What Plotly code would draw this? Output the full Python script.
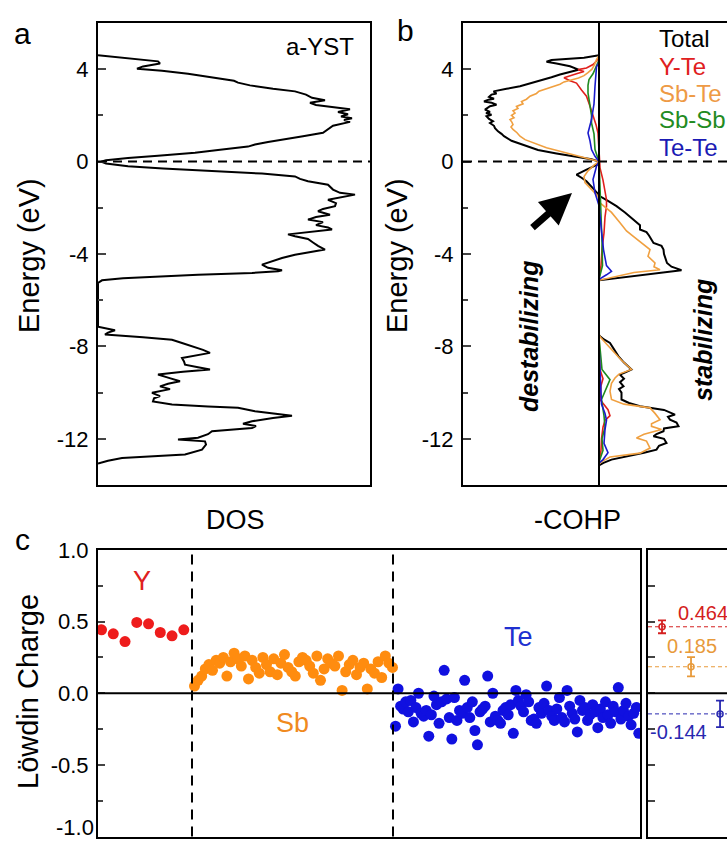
import plotly.graph_objects as go

W, H = 727, 842
FONT = "Arial, Liberation Sans, Helvetica, sans-serif"

# ---------------- data ----------------
# Panel a: total DOS of a-YST (energy in eV, DOS arb. units)
dos_energy = [4.60, 4.45, 4.34, 4.25, 4.12, 4.02, 3.93, 3.80, 3.69, 3.55, 3.50, 3.42, 3.30, 3.15, 3.04,
              2.90, 2.76, 2.66, 2.55, 2.45, 2.38, 2.27, 2.15, 2.05, 1.95, 1.88, 1.80, 1.72, 1.55, 1.39,
              1.25, 1.10, 1.00, 0.85, 0.74, 0.65, 0.50, 0.38, 0.25, 0.16, 0.06, 0.00, -0.08, -0.20,
              -0.30, -0.38, -0.52, -0.64, -0.75, -0.85, -1.00, -1.21, -1.35, -1.43, -1.55, -1.65, -1.80,
              -1.93, -2.05, -2.15, -2.30, -2.40, -2.51, -2.62, -2.75, -2.85, -2.94, -3.05, -3.15, -3.23,
              -3.35, -3.50, -3.65, -3.81, -3.90, -3.95, -4.03, -4.17, -4.30, -4.46, -4.60, -4.70, -4.75,
              -4.82, -4.90, -4.96, -5.05, -5.14, -5.25, -7.15, -7.30, -7.40, -7.49, -7.60, -7.71, -7.85,
              -8.00, -8.15, -8.28, -8.40, -8.50, -8.65, -8.79, -8.90, -9.00, -9.10, -9.22, -9.35, -9.51,
              -9.62, -9.73, -9.85, -10.01, -10.15, -10.25, -10.38, -10.52, -10.60, -10.66, -10.81, -10.92,
              -11.00, -11.10, -11.24, -11.35, -11.45, -11.53, -11.60, -11.67, -11.80, -11.95, -12.03,
              -12.11, -12.25, -12.47, -12.68, -12.75, -12.83, -12.95, -13.07]
dos_value = [0.00, 0.35, 0.60, 0.62, 0.45, 0.39, 0.64, 0.90, 1.07, 1.30, 1.36, 1.40, 1.52, 1.75, 1.97,
             2.08, 2.14, 2.27, 2.12, 2.18, 2.30, 2.52, 2.40, 2.50, 2.43, 2.54, 2.46, 2.52, 2.35, 2.30,
             2.25, 2.05, 1.90, 1.70, 1.57, 1.50, 1.20, 0.97, 0.60, 0.30, 0.08, 0.03, 0.08, 0.30,
             0.65, 0.97, 1.64, 1.97, 2.02, 2.10, 2.30, 2.35, 2.42, 2.57, 2.40, 2.30, 2.38,
             2.37, 2.25, 2.20, 2.32, 2.18, 2.10, 2.25, 2.18, 2.30, 2.34, 2.10, 1.90, 1.97,
             2.10, 2.15, 2.20, 2.27, 2.15, 2.10, 1.97, 1.84, 1.75, 1.64, 1.70, 1.84, 1.80,
             1.54, 1.00, 0.64, 0.25, 0.04, 0.00, 0.00, 0.17, 0.10, 0.07, 0.45, 0.74, 0.84,
             0.95, 1.05, 1.12, 0.95, 0.84, 0.86, 0.87, 1.00, 1.12, 0.85, 0.60, 0.70, 0.82,
             0.70, 0.62, 0.72, 0.54, 0.62, 0.56, 0.55, 0.74, 1.10, 1.40, 1.57, 1.80,
             1.94, 1.75, 1.54, 1.45, 1.58, 1.54, 1.30, 1.14, 1.10, 1.00, 0.80,
             1.07, 1.08, 1.04, 0.87, 0.60, 0.24, 0.10, 0.00]

# Panel b: -COHP (arb. units) vs energy
total_E = [4.60, 4.50, 4.40, 4.32, 4.25, 4.13, 3.98, 3.88, 3.77, 3.65, 3.55, 3.40, 3.26, 3.15, 3.04, 2.95, 2.90,
           2.80, 2.72, 2.68, 2.60, 2.55, 2.46, 2.40, 2.35, 2.25, 2.15, 2.10, 2.03, 1.96, 1.85, 1.75, 1.67, 1.55,
           1.45, 1.31, 1.20, 1.10, 0.90, 0.70, 0.50, 0.35, 0.22, 0.10, 0.00, -0.13, -0.35, -0.56, -0.70, -0.85,
           -1.20, -1.50, -1.70, -1.93, -2.20, -2.50, -2.75, -2.94, -3.05, -3.20, -3.35, -3.52, -3.65, -3.81,
           -4.00, -4.20, -4.39, -4.55, -4.70, -5.14, -7.50, -7.56, -7.70, -7.85, -8.10, -8.43, -8.70,
           -9.00, -9.10, -9.22, -9.40, -9.55, -9.73, -9.85, -10.00, -10.30, -10.45, -10.59, -10.75,
           -10.95, -11.05, -11.17, -11.30, -11.46, -11.55, -11.67, -11.80, -11.89, -12.00, -12.18,
           -12.30, -12.47, -12.60, -12.75, -12.90, -13.04, -13.15]
total_x = [0.00, -0.30, -0.95, -1.05, -0.85, -0.58, -0.41, -0.60, -0.78, -0.95, -1.11, -1.35, -1.58, -1.85, -2.11, -2.05, -2.15,
           -2.20, -2.10, -2.21, -2.30, -2.15, -2.05, -2.18, -2.22, -2.28, -2.18, -2.26, -2.15, -2.25, -2.20, -2.12, -2.18, -2.10,
           -2.08, -2.02, -1.95, -1.90, -1.75, -1.50, -1.22, -0.85, -0.50, -0.15, 0.00, -0.03, -0.25, -0.45, -0.35, -0.25,
           -0.10, 0.02, 0.18, 0.35, 0.52, 0.68, 0.82, 0.82, 0.95, 1.00, 1.05, 1.09, 1.25, 1.29,
           1.30, 1.33, 1.36, 1.45, 1.65, 0.00, 0.00, 0.02, 0.10, 0.22, 0.30, 0.39, 0.50,
           0.65, 0.55, 0.42, 0.50, 0.42, 0.49, 0.40, 0.45, 0.45, 0.60, 0.82, 1.30,
           1.52, 1.38, 1.42, 1.55, 1.59, 1.30, 1.29, 1.15, 1.09, 1.30, 1.35,
           1.20, 1.15, 0.90, 0.55, 0.25, 0.09, 0.00]

yte_E = [4.55, 4.35, 4.20, 4.05, 3.98, 3.90, 3.80, 3.63, 3.50, 3.40, 3.10, 2.83, 2.40, 1.96, 1.60, 1.24,
         0.50, 0.00, -0.27, -0.80, -1.30, -1.65, -1.93, -2.40, -3.09, -3.80, -4.50, -5.10, -7.50, -9.00,
         -9.40, -9.70, -10.30, -10.60, -10.74, -11.00, -11.20, -11.50, -12.00, -12.50, -13.00]
yte_x = [0.00, -0.05, -0.12, -0.25, -0.42, -0.30, -0.45, -0.70, -0.58, -0.45, -0.35, -0.25, -0.18, -0.11, -0.06, -0.02,
         0.00, 0.00, 0.02, 0.08, 0.12, 0.15, 0.15, 0.12, 0.10, 0.06, 0.04, 0.00, 0.00, 0.02,
         0.08, 0.04, 0.02, 0.12, 0.18, 0.22, 0.12, 0.08, 0.05, 0.04, 0.00]

sbte_E = [4.60, 4.42, 4.20, 4.00, 3.85, 3.72, 3.62, 3.55, 3.45, 3.35, 3.26, 3.15, 3.05, 2.95, 2.83, 2.70,
          2.60, 2.50, 2.39, 2.30, 2.20, 2.10, 2.00, 1.90, 1.82, 1.70, 1.60, 1.50, 1.39, 1.25, 1.10, 0.95,
          0.81, 0.70, 0.60, 0.45, 0.30, 0.16, 0.05, 0.00, -0.15, -0.40, -0.65, -0.91, -1.20, -1.50,
          -1.79, -2.20, -2.65, -3.00, -3.23, -3.50, -3.81, -4.10, -4.39, -4.55, -4.68, -4.80, -5.14,
          -7.50, -7.60, -7.90, -8.28, -8.60, -9.00, -9.20, -9.37, -9.60, -9.94, -10.30, -10.50, -10.66,
          -10.90, -11.17, -11.35, -11.46, -11.60, -11.80, -11.96, -12.10, -12.40, -12.62, -12.79,
          -13.00, -13.10]
sbte_x = [0.00, -0.05, -0.09, -0.14, -0.22, -0.30, -0.41, -0.52, -0.70, -0.78, -0.91, -1.05, -1.20, -1.25, -1.38, -1.45,
          -1.55, -1.52, -1.65, -1.62, -1.72, -1.68, -1.75, -1.70, -1.78, -1.74, -1.72, -1.76, -1.72, -1.64, -1.58, -1.48,
          -1.32, -1.20, -1.05, -0.78, -0.50, -0.25, -0.05, 0.00, -0.10, -0.22, -0.30, -0.28, -0.15, -0.02,
          0.02, 0.25, 0.42, 0.55, 0.68, 0.85, 1.02, 0.98, 1.12, 1.10, 1.22, 0.70, 0.00,
          0.00, 0.03, 0.15, 0.32, 0.45, 0.65, 0.40, 0.32, 0.25, 0.22, 0.25, 0.50, 1.02,
          1.12, 1.22, 1.05, 1.05, 1.25, 0.90, 0.75, 0.95, 1.02, 0.82, 0.22,
          0.05, 0.00]

sbsb_E = [4.40, 4.13, 3.80, 3.55, 3.30, 2.97, 2.50, 2.00, 1.67, 1.20, 0.52, 0.20, 0.00, -0.50, -2.00,
          -3.50, -4.50, -5.00, -5.10, -7.60, -8.50, -9.00, -9.44, -9.80, -10.30, -11.00, -11.50, -12.00,
          -12.50, -13.00]
sbsb_x = [0.00, -0.05, -0.12, -0.20, -0.22, -0.22, -0.18, -0.15, -0.15, -0.10, -0.08, -0.03, 0.00, 0.01, 0.04,
          0.06, 0.07, 0.02, 0.00, 0.00, 0.04, 0.06, 0.22, 0.15, 0.05, 0.10, 0.12, 0.06,
          0.08, 0.00]

tete_E = [4.30, 4.10, 3.26, 2.50, 1.82, 1.24, 0.90, 0.52, 0.23, 0.00, -0.20, -0.78, -1.35, -1.90, -3.00,
          -3.81, -4.50, -4.75, -4.90, -5.10, -8.00, -10.50, -10.90, -11.20, -11.60, -12.20, -12.60,
          -12.90, -13.05]
tete_x = [0.00, -0.05, -0.08, -0.10, -0.15, -0.22, -0.18, -0.15, -0.08, 0.00, -0.05, -0.12, -0.08, 0.00, 0.05,
          0.09, 0.15, 0.25, 0.15, 0.00, 0.00, 0.05, 0.12, 0.15, 0.12, 0.10, 0.18,
          0.08, 0.00]

cohp_names = ["Total", "Y-Te", "Sb-Te", "Sb-Sb", "Te-Te"]
cohp_colors = ["#000000", "#e0201c", "#f0a040", "#1f8a1f", "#1a1acc"]
cohp_text_colors = ["#000000", "#e02020", "#ee9a45", "#228b22", "#1a1ab4"]

# Panel c: Löwdin charges per atom
y_charge = [0.443, 0.415, 0.361, 0.494, 0.485, 0.424, 0.401, 0.443]
sb_charge = [0.05, 0.09, 0.12, 0.17, 0.20, 0.16, 0.23, 0.21, 0.25, 0.12, 0.22, 0.28, 0.24, 0.19,
             0.26, 0.10, 0.23, 0.18, 0.14, 0.25, 0.20, 0.15, 0.24, 0.13, 0.21, 0.27, 0.18, 0.15,
             0.12, 0.22, 0.25, 0.23, 0.19, 0.14, 0.26, 0.09, 0.17, 0.24, 0.21, 0.19, 0.26, 0.02,
             0.15, 0.20, 0.23, 0.13, 0.18, 0.21, 0.03, 0.17, 0.14, 0.22, 0.11, 0.26, 0.21, 0.18]
te_charge = [-0.23, 0.03, -0.09, -0.11, -0.06, -0.13, -0.05, -0.20, -0.10, 0.00, -0.14, -0.16,
             -0.12, -0.30, -0.15, -0.02, -0.08, -0.21, -0.06, 0.16, -0.04, -0.17, -0.32, -0.03,
             -0.19, -0.12, -0.14, 0.09, -0.10, -0.17, -0.06, -0.26, -0.36, -0.13, -0.11, -0.09,
             0.12, -0.20, 0.00, -0.16, -0.19, -0.21, -0.12, -0.10, -0.15, -0.08, -0.28, 0.02,
             -0.05, -0.09, -0.13, -0.01, -0.06, -0.19, -0.18, -0.21, -0.10, -0.14, -0.07, 0.05,
             -0.12, -0.16, -0.19, -0.11, -0.03, -0.17, -0.20, 0.02, -0.09, -0.14, -0.18, -0.27,
             -0.05, -0.12, -0.10, -0.19, -0.15, -0.08, -0.13, -0.24, -0.11, -0.17, -0.06, -0.15,
             -0.21, -0.09, -0.13, 0.04, -0.18, -0.12, -0.07, -0.16, -0.22, -0.14, -0.10, -0.28]
element_names = ["Y", "Sb", "Te"]
element_colors = ["#ee1c1c", "#ff8c0f", "#1010e0"]
element_label_colors = ["#e02020", "#f08a1e", "#2030d0"]
# extent of each element block along the (unitless) site axis
block_edges = [0.0, 0.94, 2.95, 5.42]

# averages (right sub-panel)
avg_values = [0.464, 0.185, -0.144]
avg_errors = [0.045, 0.067, 0.093]
avg_labels = ["0.464", "0.185", "-0.144"]
avg_colors = ["#d42020", "#e89a3a", "#2828b0"]

energy_ticks = [-12, -8, -4, 0, 4]
energy_ticktext = ["-12", "-8", "-4", "0", "4"]
charge_ticks = [-1.0, -0.5, 0.0, 0.5, 1.0]
charge_ticktext = ["-1.0", "-0.5", "0.0", "0.5", "1.0"]


def fx(px):
    return px / W


def fy(py):
    return 1 - py / H


fig = go.Figure()

# ---- panel a ----
fig.add_trace(go.Scatter(x=dos_value, y=dos_energy, mode="lines",
                         line=dict(color="black", width=2), xaxis="x", yaxis="y",
                         showlegend=False, hoverinfo="skip"))

# ---- panel b ----
cohp_data = [(total_x, total_E), (yte_x, yte_E), (sbte_x, sbte_E), (sbsb_x, sbsb_E), (tete_x, tete_E)]
for (xs, es), name, col in zip(cohp_data, cohp_names, cohp_colors):
    fig.add_trace(go.Scatter(x=xs, y=es, mode="lines", name=name,
                             line=dict(color=col, width=2 if name == "Total" else 1.6),
                             xaxis="x2", yaxis="y2", showlegend=False))

# ---- panel c ----
groups = [y_charge, sb_charge, te_charge]
for gi, (vals, col) in enumerate(zip(groups, element_colors)):
    lo, hi = block_edges[gi], block_edges[gi + 1]
    n = len(vals)
    if gi == 0:
        step = (hi - lo) / n
        xs = [lo + step * (i + 0.3) for i in range(n)]
    else:
        step = (hi - lo) / (n - 1) * 0.985
        xs = [lo + 0.025 + step * i for i in range(n)]
    fig.add_trace(go.Scatter(x=xs, y=vals, mode="markers",
                             marker=dict(color=col, size=11, line=dict(width=0)),
                             xaxis="x3", yaxis="y3", showlegend=False, cliponaxis=True))

# ---- right sub-panel: averages ----
for i, (v, e, col) in enumerate(zip(avg_values, avg_errors, avg_colors)):
    fig.add_trace(go.Scatter(x=[i + 1], y=[v], mode="markers",
                             marker=dict(symbol="circle-open", size=6, color=col, line=dict(width=1.5)),
                             error_y=dict(type="data", array=[e], color=col, thickness=1.8, width=4),
                             xaxis="x4", yaxis="y4", showlegend=False, cliponaxis=False))

axis_common = dict(showgrid=False, zeroline=False, linecolor="black", linewidth=2, automargin=False)
tickfont = dict(family=FONT, size=22, color="black")

AB_Y = [fy(485), fy(23)]
CD_Y = [fy(836.5), fy(550)]

fig.update_layout(
    template="none",
    width=W, height=H, margin=dict(l=0, r=0, t=0, b=0, pad=0, autoexpand=False),
    paper_bgcolor="white", plot_bgcolor="white",
    font=dict(family=FONT, color="black"),
    xaxis=dict(domain=[fx(98), fx(370)], range=[0, 2.72], anchor="y", showline=True, mirror=True,
               showticklabels=False, ticks="", **axis_common),
    yaxis=dict(domain=AB_Y, range=[-14, 6], anchor="x", showline=True, mirror=True,
               tickvals=energy_ticks, ticktext=energy_ticktext, ticks="inside", ticklen=8, tickwidth=2,
               tickfont=tickfont, ticklabelstandoff=3,
               minor=dict(ticks="inside", ticklen=5, tickwidth=2, dtick=2, tick0=0), **axis_common),
    xaxis2=dict(domain=[fx(463), 1.0], range=[-2.72, 2.56], anchor="y2", showline=True, mirror=True,
                showticklabels=False, ticks="", **axis_common),
    yaxis2=dict(domain=AB_Y, range=[-14, 6], anchor="x2", showline=True, mirror=False,
                tickvals=energy_ticks, ticktext=energy_ticktext, ticks="inside", ticklen=8, tickwidth=2,
                tickfont=tickfont, ticklabelstandoff=3,
                minor=dict(ticks="inside", ticklen=5, tickwidth=2, dtick=2, tick0=0), **axis_common),
    xaxis3=dict(domain=[fx(98), fx(640)], range=[block_edges[0], block_edges[-1]], anchor="y3",
                showline=True, mirror=True, showticklabels=False, ticks="", **axis_common),
    yaxis3=dict(domain=CD_Y, range=[-1, 1], anchor="x3", showline=True, mirror=True,
                tickvals=charge_ticks[1:], ticktext=charge_ticktext[1:], ticks="inside", ticklen=7,
                tickwidth=2, tickfont=tickfont, ticklabelstandoff=3,
                minor=dict(ticks="inside", ticklen=5, tickwidth=2, dtick=0.25, tick0=0), **axis_common),
    xaxis4=dict(domain=[fx(648), 1.0], range=[0.517, 3.24], anchor="y4", showline=True, mirror=True,
                showticklabels=False, ticks="", **axis_common),
    yaxis4=dict(domain=CD_Y, range=[-1, 1], anchor="x4", showline=True, mirror=False,
                tickvals=[-0.75, -0.5, -0.25, 0, 0.25, 0.5, 0.75], ticks="inside", ticklen=7, tickwidth=2,
                showticklabels=False, **axis_common),
)

shapes = []
# Fermi level dashed lines
for xr, yr in [("x domain", "y"), ("x2 domain", "y2")]:
    shapes.append(dict(type="line", xref=xr, yref=yr, x0=0, x1=1, y0=0, y1=0,
                       line=dict(color="black", width=2, dash="9px,6px")))
# zero -COHP line
shapes.append(dict(type="line", xref="x2", yref="y2 domain", x0=0, x1=0, y0=0, y1=1,
                   line=dict(color="black", width=2)))
# block separators
for b in block_edges[1:-1]:
    shapes.append(dict(type="line", xref="x3", yref="y3 domain", x0=b, x1=b, y0=0, y1=1,
                       line=dict(color="black", width=2, dash="10px,7px")))
# zero charge lines
for xr, yr in [("x3 domain", "y3"), ("x4 domain", "y4")]:
    shapes.append(dict(type="line", xref=xr, yref=yr, x0=0, x1=1, y0=0, y1=0,
                       line=dict(color="black", width=2)))
# average lines
for v, col in zip(avg_values, avg_colors):
    shapes.append(dict(type="line", xref="x4 domain", yref="y4", x0=0, x1=1, y0=v, y1=v,
                       line=dict(color=col, width=1, dash="4px,3px"), layer="below"))
fig.update_layout(shapes=shapes)

ann = []


def txt(x, y, s, size, color="black", **kw):
    d = dict(x=x, y=y, xref="paper", yref="paper", text=s, showarrow=False,
             font=dict(family=FONT, size=size, color=color), xanchor="center", yanchor="middle")
    d.update(kw)
    ann.append(d)


# panel letters
txt(fx(22), fy(33), "a", 30)
txt(fx(405), fy(30), "b", 30)
txt(fx(22), fy(539), "c", 30)
# axis titles
txt(fx(29), fy(256), "Energy (eV)", 29, textangle=-90)
txt(fx(397), fy(256), "Energy (eV)", 29, textangle=-90)
txt(fx(235), fy(520), "DOS", 27)
txt(fx(577), fy(520), "-COHP", 27)
txt(fx(28), fy(692), "Löwdin Charge", 29, textangle=-90)
# lowest charge tick label, kept fully inside the window's bottom edge
txt(fx(96), 0, charge_ticktext[0], 22, xanchor="right", yanchor="bottom")
# panel a tag
txt(fx(320), fy(47), "a-YST", 24)
# panel b legend
leg_y = [38, 66, 93, 119, 147]
for name, col, yy in zip(cohp_names, cohp_text_colors, leg_y):
    txt(fx(657), fy(yy), name, 24, color=col, xanchor="left")
# stabilizing labels
txt(fx(529), fy(337), "<b><i>destabilizing</i></b>", 25, textangle=-90)
txt(fx(703), fy(340), "<b><i>stabilizing</i></b>", 25, textangle=-90)
# element labels
txt(fx(142), fy(581), element_names[0], 27, color=element_label_colors[0])
txt(fx(292), fy(723), element_names[1], 27, color=element_label_colors[1])
txt(fx(518), fy(637), element_names[2], 27, color=element_label_colors[2])
# averages labels
ann.append(dict(x=1.47, y=0.557, xref="x4", yref="y4", text=avg_labels[0], showarrow=False,
                xanchor="left", yanchor="middle", font=dict(family=FONT, size=20, color=avg_colors[0])))
ann.append(dict(x=2.03, y=0.333, xref="x4", yref="y4", text=avg_labels[1], showarrow=False,
                xanchor="center", yanchor="middle", font=dict(family=FONT, size=20, color=avg_colors[1])))
ann.append(dict(x=1.57, y=-0.267, xref="x4", yref="y4", text=avg_labels[2], showarrow=False,
                xanchor="center", yanchor="middle", font=dict(family=FONT, size=20, color=avg_colors[2])))
# arrow
ann.append(dict(x=fx(572), y=fy(193), xref="paper", yref="paper", ax=-41, ay=36, text="",
                showarrow=True, arrowhead=2, arrowsize=0.9, arrowwidth=7, arrowcolor="black"))
fig.update_layout(annotations=ann)

# remove the browser's default 8px page margin so the figure fills the window exactly
fig.write_html("out.html", config={"displayModeBar": False},
               post_script="document.body.style.margin='0px';")
